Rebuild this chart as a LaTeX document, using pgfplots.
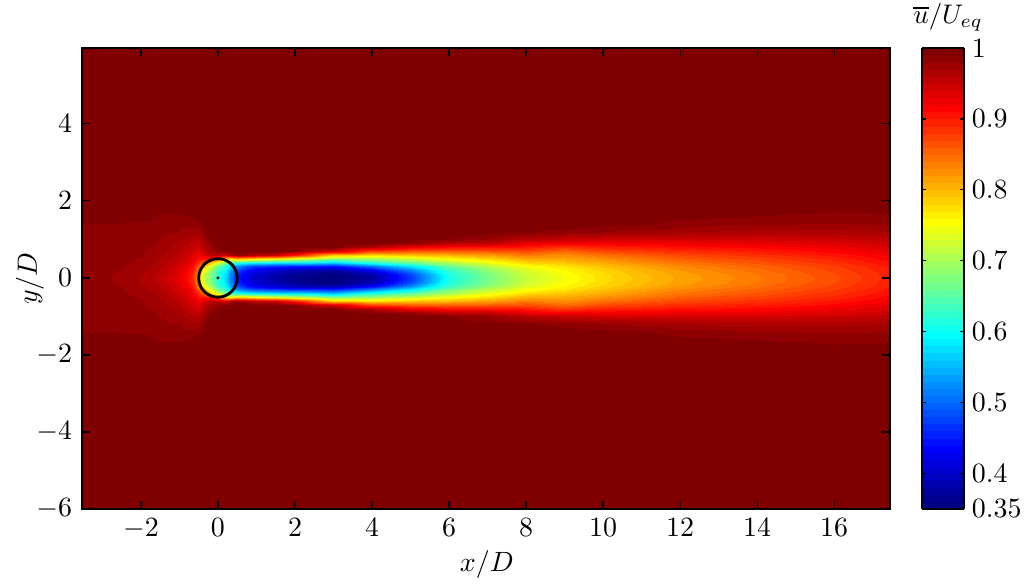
\documentclass[border=0pt]{standalone}
\usepackage{pgfplots}
\usepackage{pgfplotstable}
\pgfplotsset{compat=1.18}
\pgfplotstableread[row sep=\\]{
x y u\\
-3.53 0 .985\\ -3.53 .1 .985\\ -3.53 .2 .985\\ -3.53 .3 .985\\ -3.53 .4 .985\\ -3.53 .5 .985\\ -3.53 .6 .985\\ -3.53 .7 .985\\ -3.53 .8 .985\\ -3.53 .9 .985\\ -3.53 1 .986\\ -3.53 1.2 .987\\ -3.53 1.4 .989\\ -3.53 1.6 1\\ -3.53 1.8 1\\ -3.53 2 1\\ -3.53 6 1\\
-3 0 .983\\ -3 .1 .983\\ -3 .2 .984\\ -3 .3 .984\\ -3 .4 .984\\ -3 .5 .984\\ -3 .6 .984\\ -3 .7 .985\\ -3 .8 .985\\ -3 .9 .985\\ -3 1 .986\\ -3 1.2 .987\\ -3 1.4 .989\\ -3 1.6 1\\ -3 1.8 1\\ -3 2 1\\ -3 6 1\\
-2.5 0 .977\\ -2.5 .1 .978\\ -2.5 .2 .98\\ -2.5 .3 .981\\ -2.5 .4 .982\\ -2.5 .5 .983\\ -2.5 .6 .983\\ -2.5 .7 .984\\ -2.5 .8 .984\\ -2.5 .9 .985\\ -2.5 1 .986\\ -2.5 1.2 .987\\ -2.5 1.4 .989\\ -2.5 1.6 .998\\ -2.5 1.8 1\\ -2.5 2 1\\ -2.5 6 1\\
-2 0 .968\\ -2 .1 .97\\ -2 .2 .972\\ -2 .3 .974\\ -2 .4 .976\\ -2 .5 .979\\ -2 .6 .981\\ -2 .7 .982\\ -2 .8 .983\\ -2 .9 .984\\ -2 1 .985\\ -2 1.2 .986\\ -2 1.4 .988\\ -2 1.6 .996\\ -2 1.8 1\\ -2 2 1\\ -2 6 1\\
-1.6 0 .958\\ -1.6 .1 .96\\ -1.6 .2 .963\\ -1.6 .3 .966\\ -1.6 .4 .969\\ -1.6 .5 .972\\ -1.6 .6 .974\\ -1.6 .7 .976\\ -1.6 .8 .978\\ -1.6 .9 .98\\ -1.6 1 .981\\ -1.6 1.2 .984\\ -1.6 1.4 .987\\ -1.6 1.6 .989\\ -1.6 1.8 .997\\ -1.6 2 1\\ -1.6 6 1\\
-1.3 0 .945\\ -1.3 .1 .948\\ -1.3 .2 .951\\ -1.3 .3 .955\\ -1.3 .4 .959\\ -1.3 .5 .963\\ -1.3 .6 .966\\ -1.3 .7 .969\\ -1.3 .8 .972\\ -1.3 .9 .975\\ -1.3 1 .977\\ -1.3 1.2 .981\\ -1.3 1.4 .985\\ -1.3 1.6 .988\\ -1.3 1.8 .998\\ -1.3 2 1\\ -1.3 6 1\\
-1 0 .928\\ -1 .1 .932\\ -1 .2 .937\\ -1 .3 .942\\ -1 .4 .947\\ -1 .5 .952\\ -1 .6 .957\\ -1 .7 .96\\ -1 .8 .964\\ -1 .9 .968\\ -1 1 .971\\ -1 1.2 .98\\ -1 1.4 .984\\ -1 1.6 .988\\ -1 1.8 .996\\ -1 2 1\\ -1 6 1\\
-.8 0 .91\\ -.8 .1 .914\\ -.8 .2 .92\\ -.8 .3 .927\\ -.8 .4 .934\\ -.8 .5 .94\\ -.8 .6 .947\\ -.8 .7 .952\\ -.8 .8 .957\\ -.8 .9 .962\\ -.8 1 .966\\ -.8 1.2 .976\\ -.8 1.4 .983\\ -.8 1.6 .99\\ -.8 1.8 .998\\ -.8 2 1\\ -.8 6 1\\
-.65 0 .885\\ -.65 .1 .89\\ -.65 .2 .898\\ -.65 .3 .908\\ -.65 .4 .918\\ -.65 .5 .926\\ -.65 .6 .935\\ -.65 .7 .942\\ -.65 .8 .949\\ -.65 .9 .956\\ -.65 1 .962\\ -.65 1.2 .974\\ -.65 1.4 .983\\ -.65 1.6 .994\\ -.65 1.8 1\\ -.65 2 1\\ -.65 6 1\\
-.5 0 .80\\ -.5 .1 .81\\ -.5 .2 .83\\ -.5 .3 .86\\ -.5 .4 .885\\ -.5 .5 .905\\ -.5 .6 .92\\ -.5 .7 .933\\ -.5 .8 .945\\ -.5 .9 .953\\ -.5 1 .96\\ -.5 1.2 .975\\ -.5 1.4 .988\\ -.5 1.6 1\\ -.5 1.8 1\\ -.5 2 1\\ -.5 6 1\\
-.4 0 .72\\ -.4 .1 .73\\ -.4 .2 .76\\ -.4 .3 .80\\ -.4 .4 .86\\ -.4 .5 .91\\ -.4 .6 .935\\ -.4 .7 .95\\ -.4 .8 .96\\ -.4 .9 .965\\ -.4 1 .972\\ -.4 1.2 .985\\ -.4 1.4 .995\\ -.4 1.6 1\\ -.4 1.8 1\\ -.4 2 1\\ -.4 6 1\\
-.2 0 .68\\ -.2 .1 .68\\ -.2 .2 .70\\ -.2 .3 .74\\ -.2 .4 .80\\ -.2 .5 .90\\ -.2 .6 .955\\ -.2 .7 .97\\ -.2 .8 .98\\ -.2 .9 .987\\ -.2 1 .992\\ -.2 1.2 1\\ -.2 1.4 1\\ -.2 1.6 1\\ -.2 1.8 1\\ -.2 2 1\\ -.2 6 1\\
0 0 .62\\ 0 .1 .62\\ 0 .2 .63\\ 0 .3 .66\\ 0 .4 .72\\ 0 .5 .86\\ 0 .6 .96\\ 0 .7 .985\\ 0 .8 .993\\ 0 .9 1\\ 0 1 1\\ 0 1.2 1\\ 0 1.4 1\\ 0 1.6 1\\ 0 1.8 1\\ 0 2 1\\ 0 6 1\\
.2 0 .57\\ .2 .1 .575\\ .2 .2 .59\\ .2 .3 .62\\ .2 .4 .66\\ .2 .5 .78\\ .2 .6 .94\\ .2 .7 .99\\ .2 .8 1\\ .2 .9 1\\ .2 1 1\\ .2 1.2 1\\ .2 1.4 1\\ .2 1.6 1\\ .2 1.8 1\\ .2 2 1\\ .2 6 1\\
.35 0 .51\\ .35 .1 .515\\ .35 .2 .535\\ .35 .3 .565\\ .35 .4 .62\\ .35 .5 .76\\ .35 .6 .97\\ .35 .7 .995\\ .35 .8 1\\ .35 .9 1\\ .35 1 1\\ .35 1.2 1\\ .35 1.4 1\\ .35 1.6 1\\ .35 1.8 1\\ .35 2 1\\ .35 6 1\\
.5 0 .45\\ .5 .1 .455\\ .5 .2 .48\\ .5 .3 .525\\ .5 .4 .61\\ .5 .5 .78\\ .5 .6 .985\\ .5 .7 1\\ .5 .8 1\\ .5 .9 1\\ .5 1 1\\ .5 1.2 1\\ .5 1.4 1\\ .5 1.6 1\\ .5 1.8 1\\ .5 2 1\\ .5 6 1\\
.75 0 .42\\ .75 .1 .425\\ .75 .2 .445\\ .75 .3 .49\\ .75 .4 .59\\ .75 .5 .77\\ .75 .6 .97\\ .75 .7 .999\\ .75 .8 1\\ .75 .9 1\\ .75 1 1\\ .75 1.2 1\\ .75 1.4 1\\ .75 1.6 1\\ .75 1.8 1\\ .75 2 1\\ .75 6 1\\
1 0 .40\\ 1 .1 .405\\ 1 .2 .425\\ 1 .3 .475\\ 1 .4 .58\\ 1 .5 .76\\ 1 .6 .96\\ 1 .7 .998\\ 1 .8 1\\ 1 .9 1\\ 1 1 1\\ 1 1.2 1\\ 1 1.4 1\\ 1 1.6 1\\ 1 1.8 1\\ 1 2 1\\ 1 6 1\\
1.5 0 .38\\ 1.5 .1 .385\\ 1.5 .2 .405\\ 1.5 .3 .465\\ 1.5 .4 .57\\ 1.5 .5 .74\\ 1.5 .6 .945\\ 1.5 .7 .997\\ 1.5 .8 1\\ 1.5 .9 1\\ 1.5 1 1\\ 1.5 1.2 1\\ 1.5 1.4 1\\ 1.5 1.6 1\\ 1.5 1.8 1\\ 1.5 2 1\\ 1.5 6 1\\
2 0 .365\\ 2 .1 .37\\ 2 .2 .39\\ 2 .3 .455\\ 2 .4 .57\\ 2 .5 .72\\ 2 .6 .90\\ 2 .7 .99\\ 2 .8 1\\ 2 .9 1\\ 2 1 1\\ 2 1.2 1\\ 2 1.4 1\\ 2 1.6 1\\ 2 1.8 1\\ 2 2 1\\ 2 6 1\\
3 0 .35\\ 3 .1 .355\\ 3 .2 .38\\ 3 .3 .45\\ 3 .4 .55\\ 3 .5 .67\\ 3 .6 .79\\ 3 .7 .945\\ 3 .8 .996\\ 3 .9 1\\ 3 1 1\\ 3 1.2 1\\ 3 1.4 1\\ 3 1.6 1\\ 3 1.8 1\\ 3 2 1\\ 3 6 1\\
4 0 .375\\ 4 .1 .385\\ 4 .2 .43\\ 4 .3 .51\\ 4 .4 .61\\ 4 .5 .69\\ 4 .6 .775\\ 4 .7 .875\\ 4 .8 .965\\ 4 .9 .997\\ 4 1 1\\ 4 1.2 1\\ 4 1.4 1\\ 4 1.6 1\\ 4 1.8 1\\ 4 2 1\\ 4 6 1\\
5 0 .47\\ 5 .1 .48\\ 5 .2 .52\\ 5 .3 .58\\ 5 .4 .65\\ 5 .5 .72\\ 5 .6 .79\\ 5 .7 .86\\ 5 .8 .925\\ 5 .9 .985\\ 5 1 .998\\ 5 1.2 1\\ 5 1.4 1\\ 5 1.6 1\\ 5 1.8 1\\ 5 2 1\\ 5 6 1\\
6 0 .61\\ 6 .1 .615\\ 6 .2 .63\\ 6 .3 .66\\ 6 .4 .70\\ 6 .5 .75\\ 6 .6 .80\\ 6 .7 .86\\ 6 .8 .91\\ 6 .9 .96\\ 6 1 .99\\ 6 1.2 .999\\ 6 1.4 1\\ 6 1.6 1\\ 6 1.8 1\\ 6 2 1\\ 6 6 1\\
7 0 .67\\ 7 .1 .673\\ 7 .2 .685\\ 7 .3 .71\\ 7 .4 .74\\ 7 .5 .775\\ 7 .6 .815\\ 7 .7 .86\\ 7 .8 .91\\ 7 .9 .955\\ 7 1 .98\\ 7 1.2 .996\\ 7 1.4 1\\ 7 1.6 1\\ 7 1.8 1\\ 7 2 1\\ 7 6 1\\
8 0 .72\\ 8 .1 .723\\ 8 .2 .733\\ 8 .3 .75\\ 8 .4 .775\\ 8 .5 .805\\ 8 .6 .835\\ 8 .7 .87\\ 8 .8 .90\\ 8 .9 .93\\ 8 1 .96\\ 8 1.2 .992\\ 8 1.4 1\\ 8 1.6 1\\ 8 1.8 1\\ 8 2 1\\ 8 6 1\\
9 0 .75\\ 9 .1 .752\\ 9 .2 .76\\ 9 .3 .77\\ 9 .4 .79\\ 9 .5 .81\\ 9 .6 .825\\ 9 .7 .85\\ 9 .8 .885\\ 9 .9 .925\\ 9 1 .95\\ 9 1.2 .985\\ 9 1.4 .998\\ 9 1.6 1\\ 9 1.8 1\\ 9 2 1\\ 9 6 1\\
10 0 .775\\ 10 .1 .777\\ 10 .2 .782\\ 10 .3 .793\\ 10 .4 .807\\ 10 .5 .823\\ 10 .6 .845\\ 10 .7 .87\\ 10 .8 .895\\ 10 .9 .922\\ 10 1 .945\\ 10 1.2 .98\\ 10 1.4 .994\\ 10 1.6 1\\ 10 1.8 1\\ 10 2 1\\ 10 6 1\\
11 0 .795\\ 11 .1 .797\\ 11 .2 .802\\ 11 .3 .812\\ 11 .4 .825\\ 11 .5 .84\\ 11 .6 .858\\ 11 .7 .88\\ 11 .8 .90\\ 11 .9 .923\\ 11 1 .942\\ 11 1.2 .975\\ 11 1.4 .992\\ 11 1.6 1\\ 11 1.8 1\\ 11 2 1\\ 11 6 1\\
12 0 .813\\ 12 .1 .815\\ 12 .2 .82\\ 12 .3 .829\\ 12 .4 .84\\ 12 .5 .855\\ 12 .6 .87\\ 12 .7 .888\\ 12 .8 .907\\ 12 .9 .925\\ 12 1 .943\\ 12 1.2 .972\\ 12 1.4 .985\\ 12 1.6 .994\\ 12 1.8 1\\ 12 2 1\\ 12 6 1\\
13 0 .825\\ 13 .1 .827\\ 13 .2 .833\\ 13 .3 .842\\ 13 .4 .852\\ 13 .5 .865\\ 13 .6 .878\\ 13 .7 .893\\ 13 .8 .91\\ 13 .9 .926\\ 13 1 .942\\ 13 1.2 .968\\ 13 1.4 .983\\ 13 1.6 .992\\ 13 1.8 .999\\ 13 2 1\\ 13 6 1\\
14 0 .838\\ 14 .1 .84\\ 14 .2 .846\\ 14 .3 .853\\ 14 .4 .862\\ 14 .5 .873\\ 14 .6 .885\\ 14 .7 .899\\ 14 .8 .913\\ 14 .9 .928\\ 14 1 .943\\ 14 1.2 .966\\ 14 1.4 .981\\ 14 1.6 .99\\ 14 1.8 .997\\ 14 2 1\\ 14 6 1\\
15 0 .853\\ 15 .1 .855\\ 15 .2 .86\\ 15 .3 .866\\ 15 .4 .874\\ 15 .5 .883\\ 15 .6 .894\\ 15 .7 .906\\ 15 .8 .919\\ 15 .9 .932\\ 15 1 .944\\ 15 1.2 .966\\ 15 1.4 .98\\ 15 1.6 .988\\ 15 1.8 .995\\ 15 2 1\\ 15 6 1\\
16 0 .867\\ 16 .1 .869\\ 16 .2 .873\\ 16 .3 .878\\ 16 .4 .885\\ 16 .5 .893\\ 16 .6 .903\\ 16 .7 .914\\ 16 .8 .925\\ 16 .9 .936\\ 16 1 .947\\ 16 1.2 .966\\ 16 1.4 .98\\ 16 1.6 .986\\ 16 1.8 .993\\ 16 2 .999\\ 16 6 1\\
17 0 .885\\ 17 .1 .887\\ 17 .2 .89\\ 17 .3 .894\\ 17 .4 .90\\ 17 .5 .907\\ 17 .6 .915\\ 17 .7 .925\\ 17 .8 .934\\ 17 .9 .943\\ 17 1 .952\\ 17 1.2 .968\\ 17 1.4 .98\\ 17 1.6 .987\\ 17 1.8 .994\\ 17 2 .999\\ 17 6 1\\
17.45 0 .895\\ 17.45 .1 .896\\ 17.45 .2 .899\\ 17.45 .3 .903\\ 17.45 .4 .908\\ 17.45 .5 .915\\ 17.45 .6 .923\\ 17.45 .7 .932\\ 17.45 .8 .94\\ 17.45 .9 .948\\ 17.45 1 .956\\ 17.45 1.2 .97\\ 17.45 1.4 .981\\ 17.45 1.6 .988\\ 17.45 1.8 .994\\ 17.45 2 .999\\ 17.45 6 1\\
}\field
\pgfplotsset{
  colormap={jetm}{rgb(0cm)=(0,0,.5); rgb(1cm)=(0,0,1); rgb(3cm)=(0,1,1); rgb(5cm)=(1,1,0); rgb(7cm)=(1,0,0); rgb(8cm)=(.5,0,0)},
  colormap={jetb}{samples of colormap=(65 of jetm)},
}
\begin{document}
\begin{tikzpicture}[x=1bp,y=1bp]
\path[use as bounding box] (0,0) rectangle (1024,585);
\begin{axis}[
  at={(82bp,76bp)}, anchor=south west,
  width=808bp, height=461bp, scale only axis,
  xmin=-3.53, xmax=17.45, ymin=-6, ymax=5.97,
  xtick={-2,0,...,16}, ytick={-6,-4,...,4},
  tick align=inside, tick pos=both,
  major tick length=8bp,
  every tick/.style={black, line width=1.2bp},
  axis line style={line width=1.6bp, black},
  axis on top,
  tick label style={scale=2.8, transform shape},
  xlabel={$x/D$}, ylabel={$y/D$},
  xlabel style={scale=2.8, transform shape, at={(axis description cs:.501,-.1215)}, anchor=center},
  ylabel style={scale=2.8, transform shape, at={(axis description cs:-.0644,.5)}, anchor=center},
  colormap name=jetb, colormap access=piecewise constant,
  point meta min=.35, point meta max=1,
  colorbar,
  colorbar style={
    at={(1.0396,0)}, anchor=south west,
    width=42bp, height=461bp,
    ytick={.35,.4,.5,.6,.7,.8,.9,1},
    yticklabels={0.35,0.4,0.5,0.6,0.7,0.8,0.9,1},
    major tick length=4bp,
    ytick pos=both, yticklabel pos=right, tick align=inside,
    yticklabel style={xshift=-.7bp},
    axis line style={line width=1.2bp},
    title={$\overline{u}/U_{eq}$},
    title style={scale=2.7, transform shape, at={(axis description cs:.62,1.054)}, anchor=center},
  },
]
\addplot[surf, shader=interp, mesh/ordering=y varies, mesh/rows=17, mesh/cols=36, point meta=\thisrow{u}] table[x=x,y=y]{\field};
\addplot[surf, shader=interp, mesh/ordering=y varies, mesh/rows=17, mesh/cols=36, point meta=\thisrow{u}] table[x=x,y expr=-\thisrow{y}]{\field};
\addplot[black, line width=2.8bp, smooth] coordinates {(.5,0)(.483,.129)(.433,.25)(.354,.354)(.25,.433)(.129,.483)(0,.5)(-.129,.483)(-.25,.433)(-.354,.354)(-.433,.25)(-.483,.129)(-.5,0)(-.483,-.129)(-.433,-.25)(-.354,-.354)(-.25,-.433)(-.129,-.483)(0,-.5)(.129,-.483)(.25,-.433)(.354,-.354)(.433,-.25)(.483,-.129)(.5,0)};
\addplot[only marks, mark=*, mark size=1.3bp, black] coordinates {(0,0)};
\end{axis}
\end{tikzpicture}
\end{document}
